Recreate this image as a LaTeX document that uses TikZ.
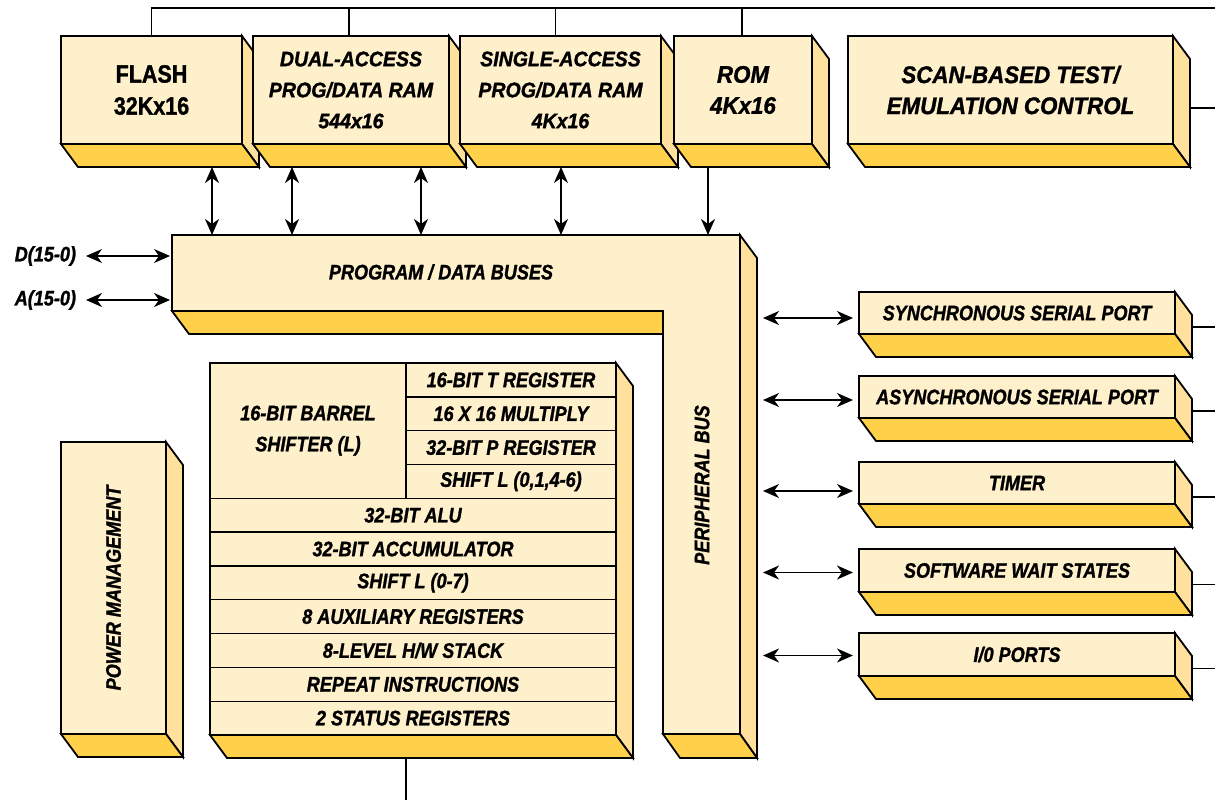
\documentclass[tikz,border=0pt]{standalone}
\usepackage{fontspec}
\setmainfont{Liberation Sans}
\newfontfamily\cf{Liberation Sans}[FakeStretch=0.86,FakeBold=1.3]
\newfontfamily\cfw{Liberation Sans}[FakeStretch=0.93,FakeBold=1.3]
\usetikzlibrary{calc,arrows.meta}
\definecolor{frontc}{HTML}{FFF0CC}
\definecolor{sidec}{HTML}{FFE09C}
\definecolor{botc}{HTML}{FFD04A}
\tikzset{
  txt/.style={font={\cf\bfseries\itshape\fontsize{21}{31}\selectfont}},
  front/.style={draw, fill=frontc, line width=1.8pt, inner sep=0pt, outer sep=0pt, align=center, txt},
  cell/.style={draw, line width=1.4pt, inner sep=0pt, outer sep=0pt, align=center, txt},
  sideface/.style={draw, fill=sidec, line width=1.8pt},
  botface/.style={draw, fill=botc, line width=1.8pt},
  frontface/.style={draw, fill=frontc, line width=1.8pt},
  lbl/.style={inner sep=0pt, outer sep=0pt, align=center, txt},
  wire/.style={line width=1.7pt},
  tip/.tip={Stealth[length=16pt,width=14pt,inset=5pt]},
  dbl/.style={line width=1.7pt, tip-tip},
  arr/.style={line width=1.7pt, -tip},
  bigtxt/.style={font={\cfw\bfseries\itshape\fontsize{24}{31}\selectfont}},
  midtxt/.style={font={\cfw\bfseries\itshape\fontsize{21}{31}\selectfont}},
}
% #1 extra options, #2 name, #3 x1, #4 y1, #5 x2, #6 y2, #7 text
\newcommand\tdbox[7][]{%
  \node[front,minimum width={(#5)-(#3)},minimum height={(#6)-(#4)},#1] (#2) at ({((#3)+(#5))/2},{((#4)+(#6))/2}) {#7};
  \filldraw[sideface] (#2.north east) -- ++(17,23) -- ($(#2.south east)+(17,23)$) -- (#2.south east) -- cycle;
  \filldraw[botface] (#2.south west) -- (#2.south east) -- ++(17,23) -- ($(#2.south west)+(17,23)$) -- cycle;
}
\newcommand\cpucell[6]{%
  \node[cell,minimum width={(#4)-(#2)},minimum height={(#5)-(#3)}] (#1) at ({((#2)+(#4))/2},{((#3)+(#5))/2}) {#6};
}
\begin{document}
\begin{tikzpicture}[x=1pt,y=-1pt]
\useasboundingbox (0,0) rectangle (1215,800);
\fill[white] (0,0) rectangle (1215,800);
\coordinate (redge) at (1215,0);
\coordinate (bedge) at (0,800);
\coordinate (topy) at (0,8);

% top row
\tdbox[font={\cf\bfseries\fontsize{25}{32}\selectfont}]{flash}{61}{36}{242}{144}{FLASH\\32Kx16}
\tdbox[midtxt]{dual}{253}{36}{449}{144}{DUAL-ACCESS\\PROG/DATA RAM\\544x16}
\tdbox[midtxt]{single}{460}{36}{661}{144}{SINGLE-ACCESS\\PROG/DATA RAM\\4Kx16}
\tdbox[bigtxt]{rom}{674}{36}{812}{144}{ROM\\4Kx16}
\tdbox[bigtxt]{scan}{848}{36}{1173}{144}{SCAN-BASED TEST/\\EMULATION CONTROL}

% top wiring
\draw[wire] (flash.north) -- (flash.north |- topy) -- (topy -| redge);
\draw[wire] ([xshift=-2pt]dual.north) -- ([xshift=-2pt]dual.north |- topy);
\draw[wire] ([xshift=-5pt]single.north) -- ([xshift=-5pt]single.north |- topy);
\draw[wire] ([xshift=-1pt]rom.north) -- ([xshift=-1pt]rom.north |- topy);
\draw[wire] (scan.east) ++(17,18) coordinate (sc) -- (sc -| redge);

% program/data bus (L shape)
\coordinate (busNW) at (172,235);
\coordinate (busE) at (757,0);
\filldraw[botface] (172,311) -- (663,311) -- (663,334) -- (189,334) -- cycle;
\filldraw[sideface] (740,235) -- (757,258) -- (757,758) -- (740,734) -- cycle;
\filldraw[botface] (663,734) -- (740,734) -- (757,758) -- (680,758) -- cycle;
\filldraw[frontface] (172,235) -- (740,235) -- (740,734) -- (663,734) -- (663,311) -- (172,311) -- cycle;
\node[lbl] (pdb) at (441,272) {PROGRAM / DATA BUSES};
\node[lbl,rotate=90] (pbus) at (702,485) {PERIPHERAL BUS};

% memory to bus arrows
\draw[dbl] ($(flash.south west)+(151,23)$) coordinate (a1) -- (a1 |- busNW);
\draw[dbl] ($(dual.south west)+(39,23)$) coordinate (a2) -- (a2 |- busNW);
\draw[dbl] ($(dual.south west)+(168,23)$) coordinate (a3) -- (a3 |- busNW);
\draw[dbl] ($(single.south west)+(101,23)$) coordinate (a4) -- (a4 |- busNW);
\draw[arr] ($(rom.south west)+(34,23)$) coordinate (a5) -- (a5 |- busNW);

% external D/A
\node[lbl,anchor=east] (dlab) at (76,256) {D(15-0)};
\node[lbl,anchor=east] (alab) at (76,300) {A(15-0)};
\draw[dbl,shorten >=2pt] (dlab.east) ++(10,0) coordinate (d1) -- (d1 -| busNW);
\draw[dbl,shorten >=2pt] (alab.east) ++(10,0) coordinate (d2) -- (d2 -| busNW);

% power management
\tdbox{power}{61}{442}{166}{734}{}
\node[lbl,rotate=90] (pwrlbl) at (power.center) {POWER MANAGEMENT};

% CPU block
\tdbox{cpu}{210}{363}{616}{735}{}
\cpucell{barrel}{210}{363}{406}{498.3}{16-BIT BARREL\\SHIFTER (L)}
\cpucell{treg}{406}{363}{616}{396.8}{16-BIT T REGISTER}
\cpucell{mult}{406}{396.8}{616}{430.6}{16 X 16 MULTIPLY}
\cpucell{preg}{406}{430.6}{616}{464.5}{32-BIT P REGISTER}
\cpucell{shl}{406}{464.5}{616}{498.3}{SHIFT L (0,1,4-6)}
\cpucell{alu}{210}{498.3}{616}{532.1}{32-BIT ALU}
\cpucell{acc}{210}{532.1}{616}{565.9}{32-BIT ACCUMULATOR}
\cpucell{shl7}{210}{565.9}{616}{599.7}{SHIFT L (0-7)}
\cpucell{aux}{210}{599.7}{616}{633.5}{8 AUXILIARY REGISTERS}
\cpucell{stack}{210}{633.5}{616}{667.4}{8-LEVEL H/W STACK}
\cpucell{rpt}{210}{667.4}{616}{701.2}{REPEAT INSTRUCTIONS}
\cpucell{stat}{210}{701.2}{616}{735}{2 STATUS REGISTERS}
\draw[wire] (barrel.south east |- cpu.south) ++(0,23) coordinate (b1) -- (b1 |- bedge);

% peripherals
\tdbox{ssp}{859}{292}{1175}{334}{SYNCHRONOUS SERIAL PORT}
\tdbox{assp}{859}{376}{1175}{418}{ASYNCHRONOUS SERIAL PORT}
\tdbox{timer}{859}{462}{1175}{504}{TIMER}
\tdbox{sws}{859}{549}{1175}{592}{SOFTWARE WAIT STATES}
\tdbox{io}{859}{633}{1175}{676}{I/0 PORTS}

\foreach \p/\o in {ssp/5,assp/3,timer/8,sws/2,io/1}{
  \draw[dbl,shorten >=6pt] (\p.west) ++(-6,\o) coordinate (q) -- (q -| busE);
  \draw[wire] (\p.east) ++(17,14) coordinate (r) -- (r -| redge);
}
\end{tikzpicture}
\end{document}
